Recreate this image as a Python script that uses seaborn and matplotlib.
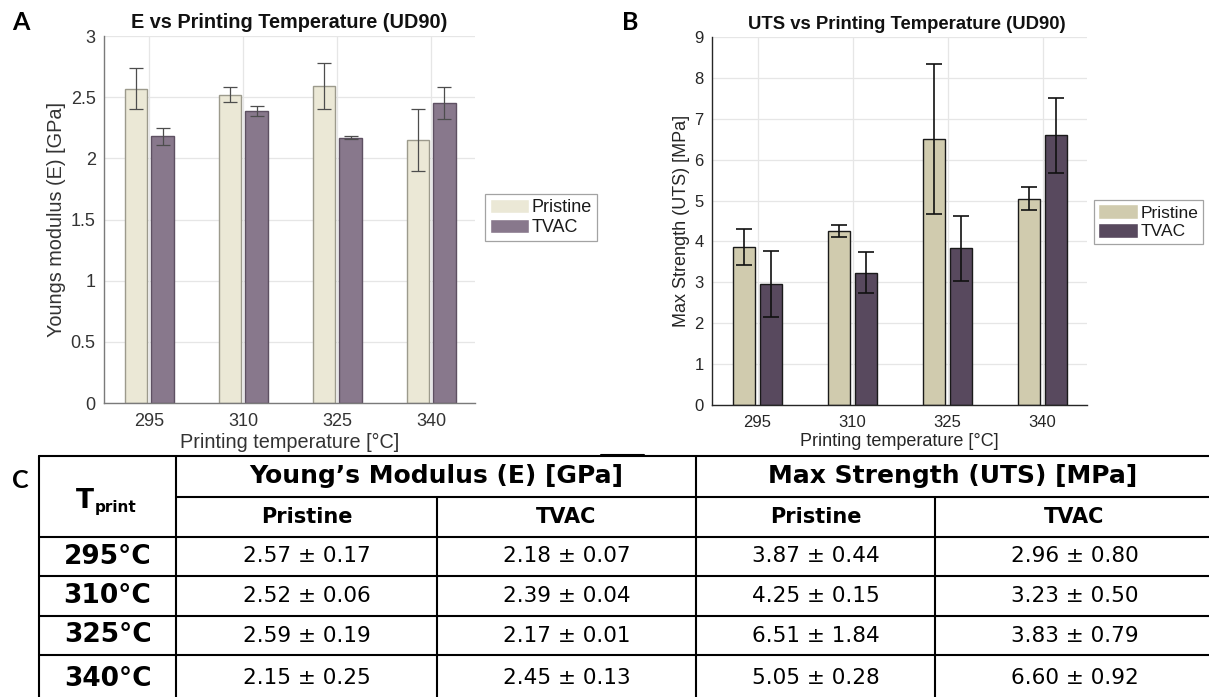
import numpy as np
import pandas as pd
import matplotlib
matplotlib.use("Agg")
import matplotlib.pyplot as plt
import seaborn as sns

# ---------------- data ----------------
temps = ["295", "310", "325", "340"]
conditions = ["Pristine", "TVAC"]
E_pristine = [2.57, 2.52, 2.59, 2.15]
E_pristine_sd = [0.17, 0.06, 0.19, 0.25]
E_tvac = [2.18, 2.39, 2.17, 2.45]
E_tvac_sd = [0.07, 0.04, 0.01, 0.13]
UTS_pristine = [3.87, 4.25, 6.51, 5.05]
UTS_pristine_sd = [0.44, 0.15, 1.84, 0.28]
UTS_tvac = [2.96, 3.23, 3.83, 6.60]
UTS_tvac_sd = [0.80, 0.50, 0.79, 0.92]
E_ticks = [0, 0.5, 1, 1.5, 2, 2.5, 3]
UTS_ticks = [0, 1, 2, 3, 4, 5, 6, 7, 8, 9]

sns.set_style("white")
plt.rcParams["font.family"] = ["Liberation Sans", "DejaVu Sans"]

W, H = 1209, 697
fig = plt.figure(figsize=(W / 100, H / 100), dpi=100)


def px_axes(l, t, r, b):
    return fig.add_axes([l / W, 1 - b / H, (r - l) / W, (b - t) / H])


def panel(ax, pri, pri_sd, tv, tv_sd, colors, edges, errc, spinec, txtc,
          ticks, tick_fs, lab_fs, title, title_fs, title_x, ylabel, capsize, elw,
          leg_anchor, leg_fs, leg_hl, leg_hh):
    df = pd.DataFrame({"temp": temps * 2,
                       "cond": [conditions[0]] * 4 + [conditions[1]] * 4,
                       "val": pri + tv})
    sns.barplot(data=df, x="temp", y="val", hue="cond", order=temps,
                hue_order=conditions, palette=colors, width=0.57, gap=0.175,
                errorbar=None, linewidth=1.0, ax=ax, zorder=2)
    for cont, ec, sd in zip(ax.containers, edges, [pri_sd, tv_sd]):
        for bar, s in zip(cont, sd):
            bar.set_edgecolor(ec)
            x = bar.get_x() + bar.get_width() / 2
            ax.errorbar(x, bar.get_height(), yerr=s, fmt="none", ecolor=errc,
                        elinewidth=elw, capsize=capsize, capthick=elw, zorder=3)
    ax.set_xlim(-0.48, 3.467)
    ax.set_ylim(ticks[0], ticks[-1])
    ax.set_yticks(ticks)
    ax.set_yticklabels([f"{t:g}" for t in ticks])
    ax.set_axisbelow(True)
    ax.grid(True, color="#e6e6e6", lw=0.9)
    for s in ["top", "right"]:
        ax.spines[s].set_visible(False)
    for s in ["left", "bottom"]:
        ax.spines[s].set_color(spinec)
        ax.spines[s].set_linewidth(1.0)
    ax.tick_params(axis="both", direction="in", length=3, width=0.8,
                   colors=spinec, labelcolor=txtc, labelsize=tick_fs)
    ax.tick_params(axis="y", pad=6)
    ax.tick_params(axis="x", pad=7)
    ax.set_xlabel("Printing temperature [°C]", fontsize=lab_fs, color=txtc, labelpad=2)
    ax.set_ylabel(ylabel, fontsize=lab_fs, color=txtc, labelpad=3)
    ax.set_title(title, fontsize=title_fs, fontweight="bold", color="#111111",
                 pad=6, x=title_x)
    handles, labels = ax.get_legend_handles_labels()
    if ax.get_legend() is not None:
        ax.get_legend().remove()
    leg = ax.legend(handles, labels, loc="upper left", bbox_to_anchor=leg_anchor,
                    borderaxespad=0, fontsize=leg_fs, frameon=True, fancybox=False,
                    edgecolor="#8c8c8c", handlelength=leg_hl, handleheight=leg_hh,
                    handletextpad=0.15, borderpad=0.25, labelspacing=0.15)
    leg.get_frame().set_linewidth(0.9)
    for t in leg.get_texts():
        t.set_color("#1a1a1a")


axA = px_axes(104, 36, 475, 403)
panel(axA, E_pristine, E_pristine_sd, E_tvac, E_tvac_sd,
      colors=["#EEEAD3", "#8A7490"], edges=["#9c9a8c", "#5e5062"],
      errc="#4d4d4d", spinec="#7a7a7a", txtc="#333333",
      ticks=E_ticks, tick_fs=13, lab_fs=14.3,
      title="E vs Printing Temperature (UD90)", title_fs=14.3, title_x=0.5,
      ylabel="Youngs modulus (E) [GPa]", capsize=5, elw=0.9,
      leg_anchor=(1.027, 0.569), leg_fs=13, leg_hl=2.2, leg_hh=0.85)

axB = px_axes(712, 37, 1087, 405)
panel(axB, UTS_pristine, UTS_pristine_sd, UTS_tvac, UTS_tvac_sd,
      colors=["#D6CFA8", "#5A4661"], edges=["#1a1a1a", "#1a1a1a"],
      errc="#111111", spinec="#262626", txtc="#262626",
      ticks=UTS_ticks, tick_fs=12, lab_fs=13,
      title="UTS vs Printing Temperature (UD90)", title_fs=13.3, title_x=0.52,
      ylabel="Max Strength (UTS) [MPa]", capsize=6, elw=1.2,
      leg_anchor=(1.019, 0.557), leg_fs=12.5, leg_hl=2.3, leg_hh=0.9)

# ---------------- table (panel C) ----------------
tax = fig.add_axes([0, 0, 1, 1], zorder=-1)
tax.set_xlim(0, W)
tax.set_ylim(H, 0)
tax.axis("off")

lw = 1.5
col_x = [39, 176, 437, 696, 935, W + 5]
row_y = [456, 496.5, 537, 576, 616, 655, H + 5]
# horizontal rules
tax.plot([col_x[0], col_x[-1]], [row_y[0]] * 2, color="k", lw=lw)
tax.plot([col_x[1], col_x[-1]], [row_y[1]] * 2, color="k", lw=lw)
for y in row_y[2:6]:
    tax.plot([col_x[0], col_x[-1]], [y] * 2, color="k", lw=lw)
# vertical rules
for x in [col_x[0], col_x[1], col_x[3]]:
    tax.plot([x, x], [row_y[0], row_y[-1]], color="k", lw=lw)
for x in [col_x[2], col_x[4]]:
    tax.plot([x, x], [row_y[1], row_y[-1]], color="k", lw=lw)
# stray short rule above the table
tax.plot([601, 644], [455, 455], color="k", lw=lw)

tfont = ["DejaVu Sans"]
h1_fs, h2_fs, row_fs, val_fs = 18, 15, 19, 15.5
tc = "#000000"

def cx(i):
    return (col_x[i] + col_x[i + 1]) / 2

def cy(j):
    return (row_y[j] + row_y[j + 1]) / 2

tax.text((col_x[1] + col_x[3]) / 2, cy(0), "Young’s Modulus (E) [GPa]", ha="center",
         va="center", fontsize=h1_fs, fontweight="bold", family=tfont, color=tc)
tax.text((col_x[3] + W) / 2, cy(0), "Max Strength (UTS) [MPa]", ha="center",
         va="center", fontsize=h1_fs, fontweight="bold", family=tfont, color=tc)
for i, c in enumerate(conditions * 2):
    tax.text(cx(i + 1), cy(1), c, ha="center", va="center", fontsize=h2_fs,
             fontweight="bold", family=tfont, color=tc)
# T_print header
tax.text(94, 508, "T", ha="right", va="baseline", fontsize=19, fontweight="bold",
         family=tfont, color=tc)
tax.text(94.5, 512, "print", ha="left", va="baseline", fontsize=11, fontweight="bold",
         family=tfont, color=tc)

series = [(E_pristine, E_pristine_sd), (E_tvac, E_tvac_sd),
          (UTS_pristine, UTS_pristine_sd), (UTS_tvac, UTS_tvac_sd)]
for j, t in enumerate(temps):
    tax.text(cx(0), cy(j + 2), f"{t}°C", ha="center", va="center", fontsize=row_fs,
             fontweight="bold", family=tfont, color=tc)
    for i, (m, s) in enumerate(series):
        tax.text(cx(i + 1), cy(j + 2), f"{m[j]:.2f} ± {s[j]:.2f}", ha="center",
                 va="center", fontsize=val_fs, family=tfont, color=tc)

# panel letters
for lbl, x, y in [("A", 12, 22), ("B", 622, 22), ("C", 12, 481)]:
    fig.text(x / W, 1 - y / H, lbl, fontsize=18, fontweight="bold", family=["Lato"],
             ha="left", va="center", color=tc)

fig.savefig("out.png", dpi=100)
